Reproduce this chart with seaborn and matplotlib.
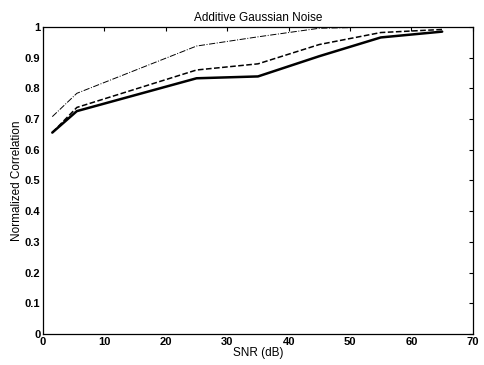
import matplotlib
matplotlib.use("Agg")
from matplotlib import pyplot as plt
import seaborn as sns
import pandas as pd

## data
snr = [1.5, 5.5, 25, 35, 45, 55, 65]
corr_top = [0.708, 0.784, 0.938, 0.968, 0.996, 1.0, 1.0]
corr_mid = [0.656, 0.738, 0.860, 0.880, 0.943, 0.982, 0.992]
corr_low = [0.656, 0.726, 0.833, 0.839, 0.905, 0.966, 0.985]

sns.set_style("white")
plt.rcParams['font.family'] = ['Liberation Sans', 'DejaVu Sans']
plt.rcParams['text.color'] = 'black'
plt.rcParams['axes.labelcolor'] = 'black'

fig = plt.figure(figsize=(4.84, 3.65), dpi=100)
ax = fig.add_axes([0.089, 0.085, 0.888, 0.841])

df = pd.DataFrame({"snr": snr, "top": corr_top, "mid": corr_mid, "low": corr_low})
sns.lineplot(data=df, x="snr", y="top", ax=ax, color="black", lw=0.7, linestyle="-.")
sns.lineplot(data=df, x="snr", y="mid", ax=ax, color="black", lw=1.1, linestyle="--")
sns.lineplot(data=df, x="snr", y="low", ax=ax, color="black", lw=1.8, linestyle="-")

ax.set_xlim(0, 70)
ax.set_ylim(0, 1)
ax.set_xticks(range(0, 71, 10))
ax.set_yticks([i / 10 for i in range(11)])
ax.set_yticklabels(["0", "0.1", "0.2", "0.3", "0.4", "0.5", "0.6", "0.7", "0.8", "0.9", "1"])
ax.tick_params(direction="in", length=3, width=0.8, top=True, right=True,
               labelsize=8, pad=2, colors="black")
for lbl in ax.get_xticklabels() + ax.get_yticklabels():
    lbl.set_fontweight("bold")
for s in ax.spines.values():
    s.set_color("black")
    s.set_linewidth(0.9)

ax.set_xlabel("SNR (dB)", fontsize=8.5, labelpad=0, color="black")
ax.set_ylabel("Normalized Correlation", fontsize=8.5, labelpad=1, color="black")
ax.set_title("Additive Gaussian Noise", fontsize=8.5, pad=4, color="black")

fig.savefig("out.png", dpi=100)
